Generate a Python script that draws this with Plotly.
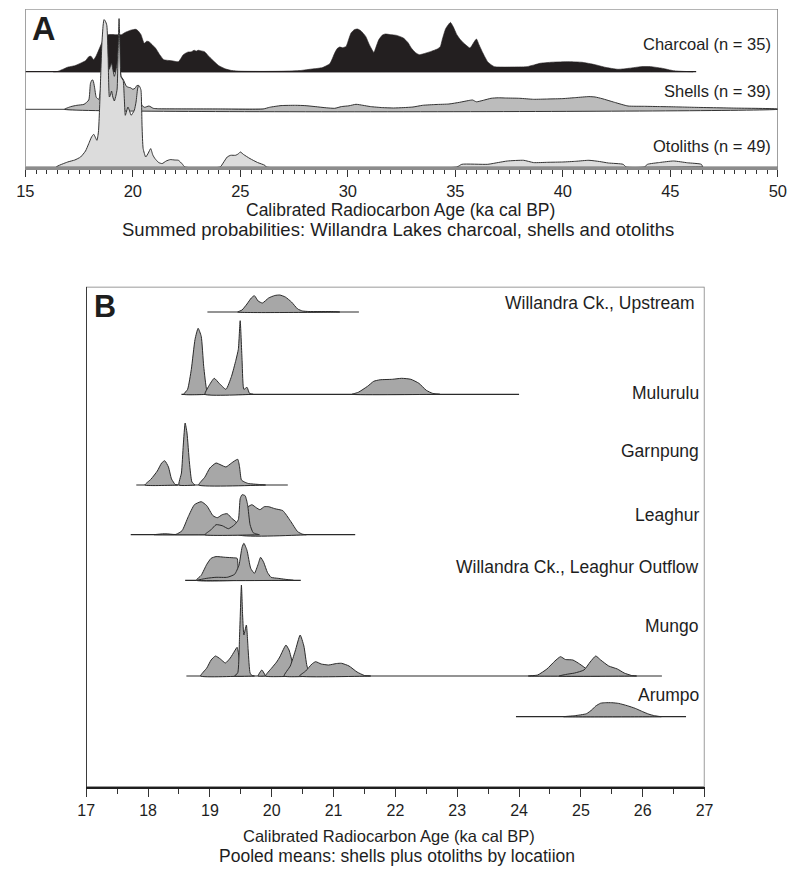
import plotly.graph_objects as go

# ---------------- Panel A: summed probabilities ----------------
charcoal_age = [16.3, 16.51, 16.97, 17.3, 17.57, 17.8, 17.95, 18.05, 18.18, 18.3, 18.48, 18.65, 18.86, 19.2, 19.47,
                19.62, 19.9, 20.15, 20.28, 20.38, 20.53, 20.65, 20.75, 20.9, 21.06, 21.25, 21.44, 21.8, 22.12, 22.35,
                22.55, 22.73, 22.85, 22.95, 23.03, 23.15, 23.33, 23.55, 23.79, 24.0, 24.32, 24.6, 25.0, 26.0, 27.0,
                27.8, 28.33, 28.8, 29.16, 29.39, 29.5, 29.62, 29.75, 29.92, 30.05, 30.15, 30.3, 30.45, 30.6, 30.83,
                31.0, 31.21, 31.3, 31.44, 31.6, 31.74, 32.0, 32.27, 32.58, 32.8, 32.95, 33.15, 33.33, 33.64, 33.9,
                34.16, 34.3, 34.39, 34.55, 34.77, 34.9, 35.07, 35.2, 35.38, 35.5, 35.68, 35.85, 35.98, 36.1, 36.25,
                36.36, 36.5, 36.66, 36.82, 37.27, 38.0, 38.33, 38.7, 38.94, 39.5, 40.3, 40.9, 41.5, 41.97, 42.57,
                43.1, 43.64, 44.09, 44.6, 45.15, 45.6, 46.06]
charcoal_p = [0, 0.3, 4.5, 6, 8.5, 11, 15, 15.5, 12, 16, 25, 33, 37, 37, 37,
              39, 41.5, 42.4, 40, 37, 28.4, 30.5, 30, 27, 23.4, 17, 12, 11, 10, 17,
              19.5, 20, 21.5, 20.5, 21.5, 21, 20, 15, 10, 6, 2.7, 1.2, 0.5, 0.3, 0.5,
              1.2, 2.7, 4, 8, 18.7, 23, 24.7, 24, 25.3, 33, 38.7, 42, 42.7, 41, 35.3,
              27, 19.3, 24, 32, 36.5, 37.7, 37, 36.3, 33.7, 29, 23.7, 19, 17, 18.7, 20.5,
              22.7, 25, 32, 43, 49.3, 45, 37, 33, 28.7, 26.5, 23.7, 29, 32.7, 27, 20,
              15.3, 10, 7, 5, 4.6, 4.8, 5, 7, 8.4, 9.5, 10, 9.4, 7, 4.4, 2.4,
              3.5, 5, 5, 3.5, 1, 0.3, 0]

shells_age = [16.82, 17.12, 17.4, 17.73, 17.95, 18.03, 18.1, 18.15, 18.22, 18.3, 18.42, 18.5, 18.6, 18.7, 18.8,
              18.9, 19.01, 19.14, 19.27, 19.36, 19.45, 19.55, 19.7, 19.8, 19.9, 20.0, 20.1, 20.2, 20.28, 20.35,
              20.42, 20.55, 20.75, 20.95, 21.2, 22.0, 24.0, 26.06, 26.36, 26.89, 27.57, 28.0, 28.48, 29.0, 29.39,
              29.7, 30.05, 30.38, 30.7, 31.06, 31.6, 32.12, 32.6, 33.03, 33.48, 34.1, 34.7, 35.2, 35.6, 35.8,
              35.98, 36.3, 36.66, 37.0, 37.34, 38.0, 38.64, 39.3, 40.0, 40.6, 41.21, 41.5, 41.82, 42.4, 43.03,
              43.8, 44.55, 45.3, 46.06, 48.0, 50.0]
shells_p = [0, 2.7, 4, 5, 9.3, 26, 29.3, 29, 22, 12, 10, 20, 60, 70, 55,
            40, 46, 33, 46, 70, 33, 30, 23, 22, 21.5, 20, 21, 24, 23, 12,
            4, 2, 3.3, 1, 0.5, 0.4, 0.3, 0.3, 2, 3.7, 4, 3.7, 2.7, 1.5, 1,
            2.7, 3.5, 5, 4, 2.7, 1.7, 1.3, 1.7, 2.3, 4, 4.8, 5.3, 7, 8.7, 9.3,
            7.5, 9, 11, 11.5, 11.3, 11, 10, 10.3, 10.7, 11.7, 12.7, 12.3, 10.7, 7, 3.3,
            3, 2.7, 2.4, 2, 1.2, 0.3]

otoliths_age = [16.44, 16.97, 17.3, 17.57, 17.8, 17.95, 18.08, 18.18, 18.33, 18.4, 18.45, 18.52, 18.56, 18.62, 18.66,
                18.72, 18.79, 18.85, 18.91, 18.96, 19.01, 19.07, 19.14, 19.22, 19.27, 19.31, 19.36, 19.4, 19.45, 19.55,
                19.6, 19.65, 19.7, 19.77, 19.85, 19.92, 20.0, 20.07, 20.15, 20.22, 20.27, 20.33, 20.38, 20.43, 20.48,
                20.6, 20.72, 20.83, 20.93, 21.03, 21.2, 21.36, 21.55, 21.74, 21.95, 22.12, 22.3, 22.42, 24.06, 24.2,
                24.39, 24.55, 24.77, 24.9, 25.0, 25.15, 25.45, 25.8, 26.14, 26.21, 35.07, 35.3, 36.51, 37.0, 37.42,
                38.18, 38.64, 39.3, 40.0, 40.6, 41.21, 41.7, 42.12, 42.8, 42.95, 43.79, 43.94, 44.5, 45.15, 45.8,
                46.44, 46.51]
otoliths_p = [0, 5, 7, 10, 16, 23.4, 30, 32.7, 26.7, 35, 56.7, 100, 123, 142, 147.4,
              146, 141.7, 110, 70, 72, 76, 70, 66, 72, 78, 110, 148.4, 120, 90, 86.7,
              70, 51.7, 55, 60, 56, 51.7, 54, 56.7, 65, 78, 81.7, 80, 76.7, 40, 18.4,
              10, 14, 18.4, 12, 8.4, 4.5, 3.4, 6, 7.4, 7, 6.7, 3, 0, 0, 4,
              10, 11.7, 11.7, 13, 15, 12.5, 8.4, 4.5, 1.7, 0, 0, 2.7, 2.7, 4.5, 6,
              6.7, 4.4, 4.7, 5, 5.7, 6.7, 5.5, 4, 2.7, 0, 0, 2.7, 4.5, 6, 4.2,
              2.7, 0]

panelA_labels = ["Charcoal (n = 35)", "Shells (n = 39)", "Otoliths (n = 49)"]
panelA_ticks = [15, 20, 25, 30, 35, 40, 45, 50]

# ---------------- Panel B: pooled means by location ----------------
locations = ["Willandra Ck., Upstream", "Mulurulu", "Garnpung", "Leaghur",
             "Willandra Ck., Leaghur Outflow", "Mungo", "Arumpo"]
# extent of each location's baseline (ka cal BP)
loc_span = [(18.96, 21.41), (18.54, 24.0), (17.81, 20.26), (17.72, 21.35),
            (18.6, 20.47), (18.62, 26.31), (23.95, 26.7)]

upstream = [
    ([19.45, 19.52, 19.6, 19.67, 19.72, 19.78, 19.85, 19.95, 20.05, 20.13, 20.22, 20.32, 20.42, 20.5, 20.6, 21.0, 21.1],
     [0, 2, 8, 14, 16.3, 11, 9, 14, 16.5, 17, 15, 10, 3, 1, 0.5, 0.4, 0]),
]
mulurulu = [
    ([18.58, 18.64, 18.7, 18.76, 18.81, 18.86, 18.9, 18.95, 18.99],
     [0, 5, 25, 55, 66, 58, 28, 4, 0]),
    ([18.92, 18.98, 19.07, 19.15, 19.26, 19.35, 19.42, 19.46, 19.49, 19.52, 19.55, 19.6, 19.64, 19.7],
     [0, 8, 16, 11, 5, 18, 34, 45, 73.6, 35, 5, 7, 1, 0]),
    ([21.3, 21.4, 21.55, 21.65, 21.75, 21.95, 22.1, 22.25, 22.38, 22.5, 22.6, 22.72],
     [0, 2, 8, 13, 14.5, 15, 16, 15, 11, 4, 1, 0]),
]
garnpung = [
    ([17.95, 18.05, 18.15, 18.22, 18.27, 18.33, 18.38, 18.44, 18.48],
     [0, 6, 14, 22, 24.3, 18, 6, 0.5, 0]),
    ([18.5, 18.54, 18.57, 18.6, 18.63, 18.67, 18.71, 18.76],
     [0, 12, 40, 62, 52, 22, 3, 0]),
    ([18.82, 18.92, 19.0, 19.1, 19.18, 19.26, 19.35, 19.45, 19.48, 19.51, 19.56, 19.62, 19.8, 19.9],
     [0, 8, 17, 22, 20, 18, 22, 25.7, 18, 5, 3, 1.5, 0.5, 0]),
]
leaghur = [
    ([18.1, 18.28, 18.45, 18.55, 18.65, 18.75, 18.86, 18.95, 19.05, 19.12, 19.2, 19.28, 19.36, 19.42, 19.47, 19.52],
     [0, 1, 0.3, 4, 18, 30, 33, 29, 19, 17, 20, 21, 16, 13, 6, 0]),
    ([19.47, 19.5, 19.55, 19.62, 19.68, 19.75, 19.81, 19.88, 19.95, 20.05, 20.18, 20.3, 20.42, 20.5, 20.56],
     [0, 12, 22, 28, 30, 27, 25, 28, 28, 26, 24, 14, 3, 0.5, 0]),
    ([18.92, 19.02, 19.1, 19.2, 19.3, 19.4, 19.46, 19.49, 19.52, 19.57, 19.61, 19.65, 19.7, 19.8],
     [0, 5, 10, 9, 6, 10, 15, 36, 40, 39, 30, 10, 2, 0]),
]
outflow = [
    ([18.78, 18.86, 18.95, 19.02, 19.1, 19.25, 19.38, 19.44, 19.46, 19.49],
     [0, 5, 16, 22, 23.7, 23, 22.5, 22, 10, 0]),
    ([18.8, 18.95, 19.1, 19.28, 19.4, 19.47, 19.52, 19.55, 19.6, 19.66, 19.72, 19.78, 19.82, 19.87, 19.93,
      19.99, 20.1, 20.28, 20.35],
     [0, 2, 3, 3, 6, 15, 33, 37, 30, 12, 7, 16, 23, 18, 8, 3, 2, 0.5, 0]),
]
mungo = [
    ([18.85, 18.95, 19.02, 19.09, 19.17, 19.25, 19.33, 19.4, 19.44, 19.47, 19.5, 19.55],
     [0, 8, 16, 20, 17, 13, 18, 25, 28.7, 20, 5, 0]),
    ([19.4, 19.45, 19.48, 19.51, 19.53, 19.55, 19.59, 19.62, 19.65, 19.68, 19.72],
     [0, 3, 40, 91, 60, 41, 51, 25, 3, 0.5, 0]),
    ([19.78, 19.84, 19.9],
     [0, 6, 0]),
    ([19.9, 20.0, 20.08, 20.13, 20.2, 20.23, 20.28, 20.34, 20.38, 20.42],
     [0, 8, 14, 19, 28, 31, 26, 12, 3, 0]),
    ([20.2, 20.3, 20.38, 20.46, 20.52, 20.57, 20.62, 20.7],
     [0, 10, 25, 41, 30, 10, 2, 0]),
    ([20.45, 20.55, 20.65, 20.71, 20.8, 20.92, 21.05, 21.13, 21.25, 21.38, 21.5, 21.6],
     [0, 5, 12, 14.3, 12, 11, 12.5, 12.7, 10, 4, 0.5, 0]),
    ([24.15, 24.3, 24.45, 24.58, 24.67, 24.75, 24.87, 24.98, 25.09, 25.15, 25.25, 25.3],
     [0, 1, 7, 15, 19.3, 16.5, 16, 12, 7, 3, 0.5, 0]),
    ([24.65, 24.75, 24.9, 25.05, 25.15, 25.24, 25.32, 25.45, 25.59, 25.7, 25.82, 25.9],
     [0, 1.5, 3, 6, 14, 20, 16, 10, 7, 3, 0.5, 0]),
]
arumpo = [
    ([24.72, 24.9, 25.09, 25.18, 25.24, 25.32, 25.4, 25.5, 25.61, 25.75, 25.88, 26.0, 26.1, 26.19, 26.3],
     [0, 1, 3, 7, 10.7, 13.5, 14, 14, 13.3, 11, 8.3, 5, 2.5, 1, 0]),
]
location_curves = [upstream, mulurulu, garnpung, leaghur, outflow, mungo, arumpo]
panelB_ticks = list(range(17, 28))

# ---------------- layout geometry (pixels) ----------------
W, H = 794, 870
FONT = "Liberation Sans, Arial, Helvetica, sans-serif"
A_left, A_right, A_top, A_bot = 16.7, 786.7, 9.0, 167.0
B_left, B_right, B_top, B_bot = 79.0, 711.7, 286.7, 787.0
A_base = [A_bot - 71.7, A_bot - 109.3, 0.0]          # charcoal, shells, otoliths
A_label_y = [44, 91, 146]
B_base = [B_bot - y for y in [312, 394.3, 485, 534.7, 580.3, 676, 716.7]]
B_label_y = [303, 393, 451, 515, 567, 626, 695]
B_label_x = [702.5, 707, 707, 707, 707, 707, 707]

fig = go.Figure()


def add_line(x0, x1, y, color, width, xa, ya):
    fig.add_trace(go.Scatter(x=[x0, x1], y=[y, y], mode="lines",
                             line=dict(color=color, width=width),
                             xaxis=xa, yaxis=ya, hoverinfo="skip", showlegend=False))


def add_curve(ages, probs, base, fill, lcolor, lwidth, xa, ya):
    xs = list(ages) + [ages[-1], ages[0]]
    ys = [base + p for p in probs] + [base, base]
    fig.add_trace(go.Scatter(x=xs, y=ys, mode="lines", fill="toself", fillcolor=fill,
                             line=dict(color=lcolor, width=lwidth, shape="spline", smoothing=0.5),
                             xaxis=xa, yaxis=ya, hoverinfo="skip", showlegend=False))


# Panel A
add_line(15, 46.2, A_base[0], "#231f20", 1.2, "x", "y")
add_line(15, 50, A_base[1], "#3a3a3a", 1.0, "x", "y")
add_curve(charcoal_age, charcoal_p, A_base[0], "#231f20", "#231f20", 0.6, "x", "y")
add_curve(shells_age, shells_p, A_base[1], "#bcbcbc", "#333333", 1.0, "x", "y")
add_curve(otoliths_age, otoliths_p, A_base[2], "#dcdcdc", "#333333", 1.0, "x", "y")

# Panel B
for (s0, s1), base, curves in zip(loc_span, B_base, location_curves):
    add_line(s0, s1, base, "#2a2a2a", 1.2, "x2", "y2")
    for ages, probs in curves:
        add_curve(ages, probs, base, "#a7a7a7", "#2a2a2a", 1.0, "x2", "y2")

axis_common = dict(showgrid=False, zeroline=False, ticks="outside", tickwidth=1,
                   tickcolor="#333", fixedrange=True)

fig.update_layout(
    width=W, height=H, autosize=False, margin=dict(l=0, r=0, t=0, b=0),
    paper_bgcolor="white", plot_bgcolor="rgba(0,0,0,0)", showlegend=False,
    font=dict(family=FONT, color="#1e1e1e"),
    xaxis=dict(domain=[A_left / W, A_right / W], range=[15, 50], anchor="y",
               tickvals=panelA_ticks, ticklen=7, showline=True, linecolor="#8c8c8c", linewidth=3,
               tickfont=dict(size=16.5, family=FONT, color="#1e1e1e"),
               minor=dict(dtick=0.5, tick0=15, ticklen=4, ticks="outside", tickcolor="#333", showgrid=False),
               **axis_common),
    yaxis=dict(domain=[(H - A_bot) / H, (H - A_top) / H], range=[0, A_bot - A_top],
               visible=False, fixedrange=True),
    xaxis2=dict(domain=[B_left / W, B_right / W], range=[17, 27], anchor="y2",
                tickvals=panelB_ticks, ticklen=8, showline=True, linecolor="#1e1e1e", linewidth=1.5,
                tickfont=dict(size=16, family=FONT, color="#1e1e1e"),
                minor=dict(dtick=0.5, tick0=17, ticklen=5, ticks="outside", tickcolor="#333", showgrid=False),
                **axis_common),
    yaxis2=dict(domain=[(H - B_bot) / H, (H - B_top) / H], range=[0, B_bot - B_top],
                visible=False, fixedrange=True),
)

# frames
fig.add_shape(type="rect", xref="x", yref="y", x0=15, x1=50, y0=0, y1=A_bot - A_top,
              line=dict(color="#6a6a6a", width=1.2), layer="above")
fig.add_shape(type="rect", xref="x2", yref="y2", x0=17, x1=27, y0=0, y1=B_bot - B_top,
              line=dict(color="#7a7a7a", width=1.5), layer="above")
fig.add_shape(type="line", xref="x2", yref="y2", x0=17, x1=17, y0=0, y1=B_bot - B_top,
              line=dict(color="#1e1e1e", width=1.5), layer="above")


def ann(text, xpx, ypx, size, xanchor="center", bold=False):
    fig.add_annotation(text=f"<b>{text}</b>" if bold else text, xref="paper", yref="paper",
                       x=xpx / W, y=1 - ypx / H, xanchor=xanchor, yanchor="middle",
                       showarrow=False, borderpad=0,
                       font=dict(size=size, family=FONT, color="#1e1e1e"))


ann("A", 23, 29, 32.5, "left", bold=True)
ann("B", 86, 306, 30.5, "left", bold=True)
for t, y in zip(panelA_labels, A_label_y):
    ann(t, 781, y, 16.5, "right")
ann("Calibrated Radiocarbon Age (ka cal BP)", 401, 209.5, 17.5)
ann("Summed probabilities: Willandra Lakes charcoal, shells and otoliths", 398, 229, 18.5)
for t, x, y in zip(locations, B_label_x, B_label_y):
    ann(t, x, y, 17.5, "right")
ann("Calibrated Radiocarbon Age (ka cal BP)", 389, 836, 16.5)
ann("Pooled means: shells plus otoliths by locatiion", 397, 855.5, 17.5)

fig.write_html("out.html", config={"responsive": False})
